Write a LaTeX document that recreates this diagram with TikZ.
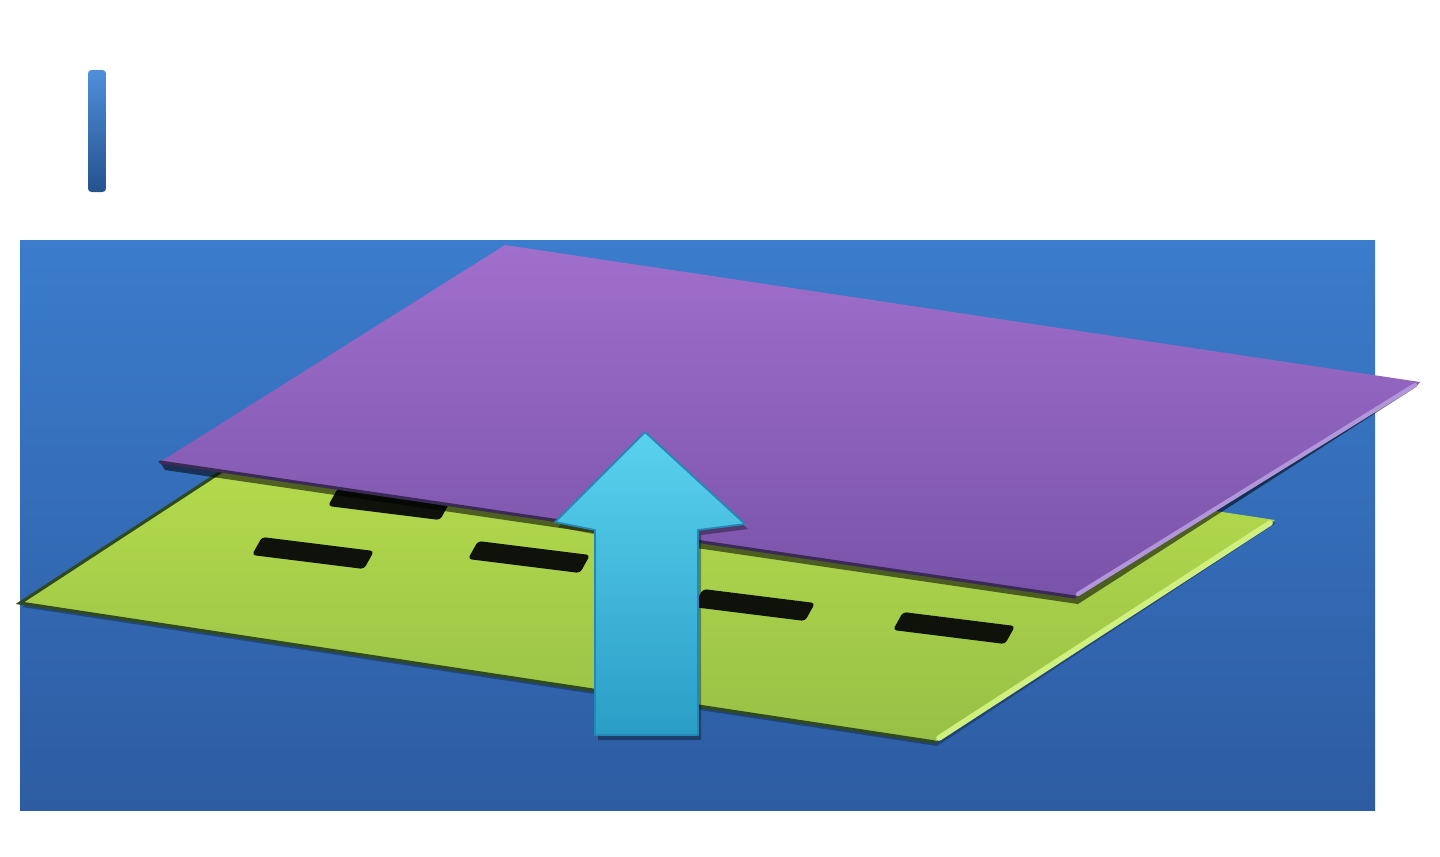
\documentclass[tikz,border=0pt]{standalone}
\usetikzlibrary{calc}
\definecolor{barTop}{HTML}{4F8FDA}
\definecolor{barBot}{HTML}{26528F}
\definecolor{bgTop}{HTML}{3B7CCC}
\definecolor{bgBot}{HTML}{2D5CA2}
\definecolor{grTop}{HTML}{BCE34E}
\definecolor{grBot}{HTML}{98C046}
\definecolor{grEdge}{HTML}{2F4A20}
\definecolor{grHi}{HTML}{CFEF7E}
\definecolor{slotc}{HTML}{0E120A}
\definecolor{purTop}{HTML}{A06FCC}
\definecolor{purBot}{HTML}{7953A9}
\definecolor{purEdge}{HTML}{3A2A55}
\definecolor{purHi}{HTML}{B196DC}
\definecolor{arTop}{HTML}{5AD2EE}
\definecolor{arBot}{HTML}{2A9DC6}
\definecolor{arEdge}{HTML}{2388B4}
\tikzset{
  panel/.style={top color=bgTop,bottom color=bgBot},
  greenplane/.style={top color=grTop,bottom color=grBot},
  purpleplane/.style={top color=purTop,bottom color=purBot},
  slotbox/.style={fill=slotc,rounded corners=1pt},
  uparrow/.style={top color=arTop,bottom color=arBot,draw=arEdge,line width=0.5pt,line join=round},
  dropshadow/.style={fill=black,opacity=#1},
  darkedge/.style={draw=#1,line width=0.9pt,line cap=round},
}
\begin{document}
\begin{tikzpicture}[x=0.01cm,y=-0.01cm]
\useasboundingbox (0,0) rectangle (1440,856);
\fill[white] (0,0) rectangle (1440,856);
% small bar top left
\shade[top color=barTop,bottom color=barBot,rounded corners=1pt] (88,70) rectangle (106,192);
% background panel
\shade[panel] (20,240) rectangle (1375,810);
% green plane
\coordinate (GL) at (20,603);
\coordinate (GB) at (935,742);
\coordinate (GR) at (1275,520);
\coordinate (GT) at (360,381);
\fill[dropshadow=0.3] ($(GL)+(2,4)$) -- ($(GB)+(2,4)$) -- ($(GR)+(1,3)$) -- (GT) -- cycle;
\shade[greenplane] (GL) -- (GB) -- (GR) -- (GT) -- cycle;
\draw[darkedge=grEdge] (GT) -- (GL) -- (GB);
\draw[grHi,line width=1.6pt,line cap=round] ($(GB)+(4,-4)$) -- ($(GR)+(-5,3)$);
% slots
\foreach \sx/\sy in {338/488, 262/537, 478/541, 703/589, 903/612}
  \fill[slotbox] (\sx,\sy) -- ++(112,14) -- ++(-10,18) -- ++(-112,-14) -- cycle;
% purple plane
\coordinate (PL) at (160,462);
\coordinate (PB) at (1075,597);
\coordinate (PR) at (1420,382);
\coordinate (PT) at (505,245);
\fill[dropshadow=0.55] (PL) -- ($(PL)+(5,8)$) -- ($(PB)+(3,7)$) -- ($(PR)+(-4,5)$) -- (PR) -- cycle;
\shade[purpleplane] (PL) -- (PB) -- (PR) -- (PT) -- cycle;
\draw[darkedge=purEdge] (PL) -- (PB);
\draw[purHi,line width=1.2pt,line cap=round] ($(PB)+(3,-3)$) -- ($(PR)+(-5,3)$);
% arrow
\coordinate (A1) at (645,432);
\coordinate (A2) at (745,524);
\coordinate (A3) at (698,530);
\coordinate (A4) at (698,735);
\coordinate (A5) at (595,735);
\coordinate (A6) at (595,530);
\coordinate (A7) at (555,522);
\fill[dropshadow=0.35] ($(A1)+(3,5)$) -- ($(A2)+(3,5)$) -- ($(A3)+(3,5)$) -- ($(A4)+(3,5)$) -- ($(A5)+(3,5)$) -- ($(A6)+(3,5)$) -- ($(A7)+(3,5)$) -- cycle;
\shadedraw[uparrow] (A1) -- (A2) -- (A3) -- (A4) -- (A5) -- (A6) -- (A7) -- cycle;
\end{tikzpicture}
\end{document}
